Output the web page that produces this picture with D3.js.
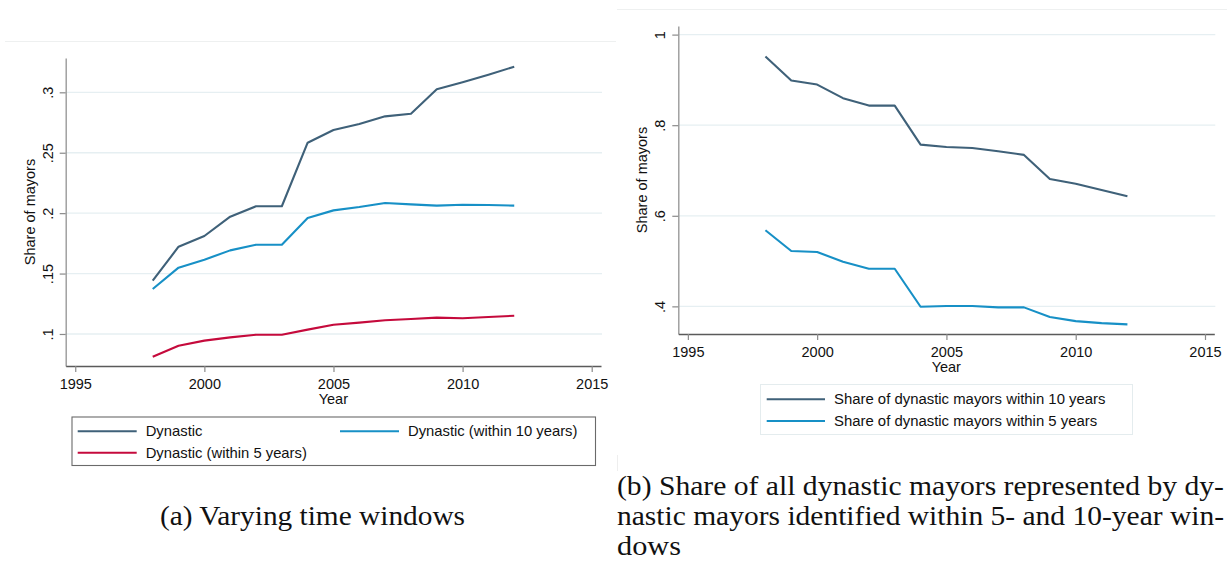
<!DOCTYPE html>
<html>
<head>
<meta charset="utf-8">
<script src="https://cdn.jsdelivr.net/npm/d3@7"></script>
<style>
  html, body { margin: 0; padding: 0; background: #fff; }
  svg { display: block; }
  .sans { font-family: "Liberation Sans", Arial, sans-serif; }
  .serif { font-family: "Liberation Serif", "Times New Roman", serif; }
</style>
</head>
<body>
<svg id="chart" width="1227" height="561"></svg>
<script>
// ---------- data ----------
const years = [1998,1999,2000,2001,2002,2003,2004,2005,2006,2007,2008,2009,2010,2011,2012];

// Panel (a): varying time windows
const dynastic      = [0.1441,0.1722,0.1811,0.1971,0.2057,0.2057,0.2583,0.2688,0.2738,0.2801,0.2823,0.3025,0.3083,0.3146,0.3212];
const dynastic10    = [0.1372,0.1549,0.1615,0.1692,0.1739,0.1739,0.1960,0.2023,0.2051,0.2084,0.2073,0.2062,0.2070,0.2068,0.2062];
const dynastic5     = [0.0812,0.0903,0.0945,0.0972,0.0994,0.0994,0.1036,0.1077,0.1094,0.1113,0.1124,0.1135,0.1130,0.1141,0.1151];

// Panel (b): share of all dynastic mayors
const share10       = [0.9516,0.8986,0.8897,0.8597,0.8433,0.8433,0.7571,0.7520,0.7498,0.7425,0.7344,0.6813,0.6709,0.6570,0.6431];
const share5        = [0.5680,0.5222,0.5200,0.4986,0.4831,0.4831,0.3991,0.4007,0.4007,0.3978,0.3978,0.3764,0.3675,0.3631,0.3602];

const xTicks = [1995,2000,2005,2010,2015];
const yTicksA = [0.1,0.15,0.2,0.25,0.3];
const yTickLabelsA = [".1",".15",".2",".25",".3"];
const yTicksB = [0.4,0.6,0.8,1];
const yTickLabelsB = [".4",".6",".8","1"];

const legendA = ["Dynastic","Dynastic (within 10 years)","Dynastic (within 5 years)"];
const legendB = ["Share of dynastic mayors within 10 years","Share of dynastic mayors within 5 years"];

const captionA = "(a) Varying time windows";
const captionB = ["(b) Share of all dynastic mayors represented by dy-",
                  "nastic mayors identified within 5- and 10-year win-",
                  "dows"];

// ---------- style ----------
const C_DARK = "#3f6179";
const C_CYAN = "#1790c6";
const C_RED  = "#c50a3c";
const GRID = "#e6eff2";

const svg = d3.select("#chart");

// faint frame lines
svg.append("line").attr("x1",5).attr("x2",616).attr("y1",41.5).attr("y2",41.5)
  .attr("stroke","#eef0f0").attr("stroke-width",1);
svg.append("line").attr("x1",617).attr("x2",1227).attr("y1",9.5).attr("y2",9.5)
  .attr("stroke","#eef0f0").attr("stroke-width",1);
svg.append("line").attr("x1",617.5).attr("x2",617.5).attr("y1",455).attr("y2",471)
  .attr("stroke","#eeeeee").attr("stroke-width",1);

function panel(opts) {
  const x = d3.scaleLinear().domain([1994.63, 2015.36]).range(opts.xRange);
  const y = d3.scaleLinear().domain(opts.yDomain).range(opts.yRange);
  const g = svg.append("g").attr("class","sans");

  // gridlines
  g.selectAll("line.grid").data(opts.yTicks).enter().append("line")
    .attr("class","grid")
    .attr("x1", opts.xRange[0]).attr("x2", opts.xRange[1] + 1)
    .attr("y1", d => y(d)).attr("y2", d => y(d))
    .attr("stroke", GRID).attr("stroke-width", 1.3);

  // y axis
  const yAxis = d3.axisLeft(y).tickValues(opts.yTicks)
    .tickFormat((d,i) => opts.yLabels[i]).tickSize(6).tickSizeOuter(0);
  const gy = g.append("g").attr("transform", `translate(${opts.xRange[0]},0)`).call(yAxis);
  gy.select(".domain").attr("stroke","#9a9a9a").attr("stroke-width",1.4);
  gy.selectAll(".tick line").attr("stroke","#8a8a8a").attr("stroke-width",1.2);
  gy.selectAll(".tick text")
    .attr("transform","rotate(-90)")
    .attr("x",0).attr("y",-13).attr("dy",0)
    .attr("text-anchor","middle")
    .attr("font-size",14.5).attr("fill","#111")
    .attr("font-family","Liberation Sans, Arial, sans-serif");

  // x axis
  const xAxis = d3.axisBottom(x).tickValues(xTicks).tickFormat(d3.format("d"))
    .tickSize(6).tickSizeOuter(0);
  const gx = g.append("g").attr("transform", `translate(0,${opts.yRange[0]})`).call(xAxis);
  gx.select(".domain").attr("stroke","#5a5a5a").attr("stroke-width",1.4);
  gx.selectAll(".tick line").attr("stroke","#8a8a8a").attr("stroke-width",1.2);
  gx.selectAll(".tick text")
    .attr("y",23.3).attr("dy",0)
    .attr("font-size",14.5).attr("fill","#111")
    .attr("font-family","Liberation Sans, Arial, sans-serif");

  // axis titles
  g.append("text").text("Year")
    .attr("x",(opts.xRange[0]+opts.xRange[1])/2).attr("y",opts.yRange[0]+38)
    .attr("text-anchor","middle").attr("font-size",14.5).attr("fill","#111");
  g.append("text").text("Share of mayors")
    .attr("transform",`translate(${opts.xRange[0]-31},${(opts.yRange[0]+opts.yRange[1])/2}) rotate(-90)`)
    .attr("text-anchor","middle").attr("font-size",14.5).attr("fill","#111");

  // lines
  const line = d3.line().x((d,i) => x(years[i])).y(d => y(d));
  opts.series.forEach(s => {
    g.append("path").datum(s.values)
      .attr("d", line).attr("fill","none")
      .attr("stroke", s.color).attr("stroke-width", 2.1)
      .attr("stroke-linejoin","round");
  });
  return g;
}

panel({
  xRange:[65.7, 601], yRange:[366, 58], yDomain:[0.0735, 0.3284],
  yTicks:yTicksA, yLabels:yTickLabelsA,
  series:[{values:dynastic,color:C_DARK},{values:dynastic10,color:C_CYAN},{values:dynastic5,color:C_RED}]
});

panel({
  xRange:[678.3, 1214.3], yRange:[334, 26], yDomain:[0.339, 1.019],
  yTicks:yTicksB, yLabels:yTickLabelsB,
  series:[{values:share10,color:C_DARK},{values:share5,color:C_CYAN}]
});

// ---------- legend (a) ----------
const la = svg.append("g").attr("class","sans");
la.append("rect").attr("x",72).attr("y",417).attr("width",523.5).attr("height",48.5)
  .attr("fill","#fff").attr("stroke","#6a6a6a").attr("stroke-width",1.1);
const legAItems = [
  {label:legendA[0], color:C_DARK, lx:77.7, ly:431.3},
  {label:legendA[1], color:C_CYAN, lx:340, ly:431.3},
  {label:legendA[2], color:C_RED,  lx:77.7, ly:452.7}
];
legAItems.forEach(it => {
  la.append("line").attr("x1",it.lx).attr("x2",it.lx+59).attr("y1",it.ly).attr("y2",it.ly)
    .attr("stroke",it.color).attr("stroke-width",2.1);
  la.append("text").text(it.label).attr("x",it.lx+68).attr("y",it.ly+5)
    .attr("font-size",14.8).attr("fill","#111");
});

// ---------- legend (b) ----------
const lb = svg.append("g").attr("class","sans");
lb.append("rect").attr("x",760.5).attr("y",384.5).attr("width",372).attr("height",50)
  .attr("fill","#fff").attr("stroke","#e4ecee").attr("stroke-width",1);
[{label:legendB[0],color:C_DARK,ly:399.3},{label:legendB[1],color:C_CYAN,ly:421}].forEach(it => {
  lb.append("line").attr("x1",766.7).attr("x2",825).attr("y1",it.ly).attr("y2",it.ly)
    .attr("stroke",it.color).attr("stroke-width",2.1);
  lb.append("text").text(it.label).attr("x",834).attr("y",it.ly+5)
    .attr("font-size",14.9).attr("fill","#111");
});

// ---------- captions ----------
const cap = svg.append("g").attr("class","serif").attr("fill","#111");
cap.append("text").text(captionA).attr("x",160).attr("y",525)
  .attr("font-size",27).attr("textLength",305).attr("lengthAdjust","spacingAndGlyphs");
const capB = [{t:captionB[0],y:494.5,w:607},{t:captionB[1],y:524.5,w:607},{t:captionB[2],y:554.5,w:64}];
capB.forEach(c => {
  cap.append("text").text(c.t).attr("x",617).attr("y",c.y)
    .attr("font-size",27).attr("textLength",c.w).attr("lengthAdjust","spacingAndGlyphs");
});
</script>
</body>
</html>
